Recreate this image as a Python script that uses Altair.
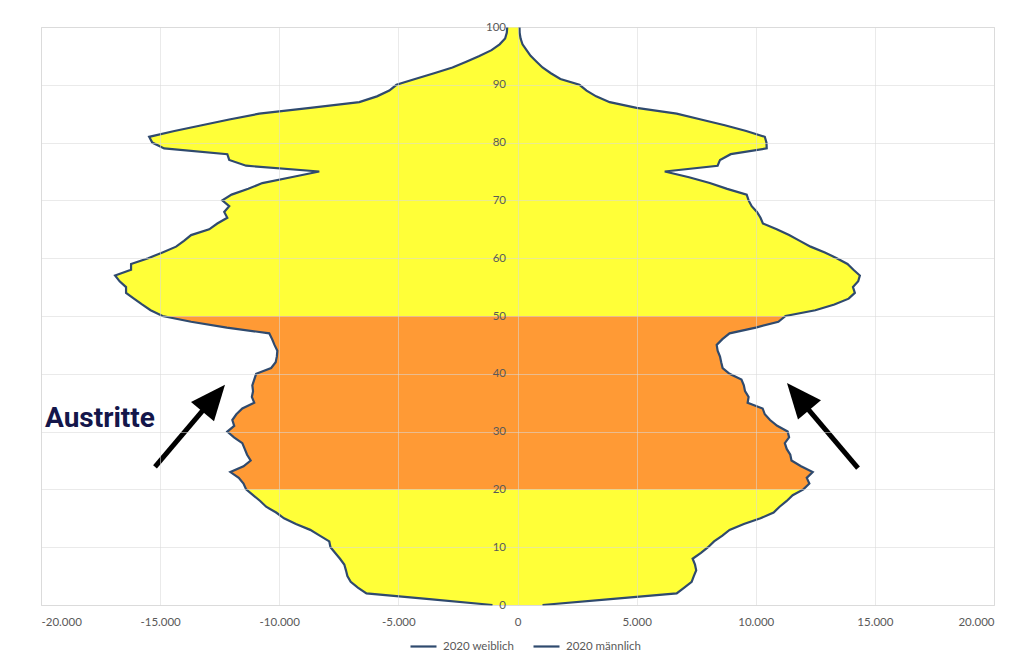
import altair as alt
import pandas as pd

# ---- data (age 0..100) ----
ages = list(range(0, 101))

weiblich = [
    -1050, -3700, -6340, -6700, -7000, -7140, -7200, -7270, -7450, -7650,
    -7850, -7900, -8300, -8700, -9300, -9800, -10130, -10550, -10800, -11100,
    -11390, -11500, -11700, -12050, -11500, -11200, -11350, -11450, -11550, -11900,
    -12180, -11890, -11970, -11800, -11550, -11050, -11150, -11100, -11130, -11050,
    -10970, -10340, -10150, -10100, -10080, -10200, -10300, -10420, -12200, -13700,
    -14900, -15400, -15760, -16100, -16430, -16430, -16700, -16890, -16220, -16220,
    -15500, -14900, -14330, -14000, -13700, -12940, -12600, -12180, -12310, -12100,
    -12390, -12000, -11300, -10710, -9500, -8320, -11390, -12100, -12180, -14830,
    -15330, -15460, -14400, -13250, -12100, -10840, -8700, -6640, -5900, -5380,
    -5080, -4300, -3500, -2730, -2150, -1600, -1090, -750, -520, -450,
    -430,
]

maennlich = [
    1050, 3900, 6680, 7000, 7310, 7400, 7500, 7450, 7350, 7700,
    8000, 8250, 8600, 8900, 9500, 10200, 10750, 11000, 11300, 11550,
    12000, 12250, 12140, 12390, 11900, 11500, 11450, 11300, 11220, 11400,
    11340, 10900, 10600, 10380, 10290, 9660, 9700, 9550, 9500, 9400,
    8900, 8610, 8550, 8500, 8400, 8360, 8600, 8900, 10000, 10950,
    11250, 12500, 13300, 13900, 14160, 14080, 14300, 14370, 14100, 13850,
    13400, 12900, 12300, 11850, 11400, 10880, 10300, 10200, 10050, 9830,
    9700, 9620, 8800, 8070, 7200, 6180, 8400, 8500, 8950, 10460,
    10450, 10380, 9600, 8700, 7700, 6680, 5000, 3870, 3300, 2900,
    2600, 1800, 1400, 1050, 800, 550, 380, 210, 130, 90,
    84,
]

series_names = ["2020 weiblich", "2020 männlich"]
x_ticks = [-20000, -15000, -10000, -5000, 0, 5000, 10000, 15000, 20000]
y_ticks = [0, 10, 20, 30, 40, 50, 60, 70, 80, 90, 100]

band_low, band_high = 20, 50

# annotation arrows (tail, shaft end, tip) in data space, and head angle
arrow_tail_x = [-15215, 14292]
arrow_tail_y = [23.9, 23.7]
arrow_end_x = [-13037, 12071]
arrow_end_y = [34.5, 34.5]
arrow_tip_x = [-12277, 11311]
arrow_tip_y = [38.1, 38.4]
arrow_angle = [40, 320]

annot_text = ["Austritte"]
annot_x = [-19832]
annot_y = [30.8]

# ---- build tables ----
df = pd.DataFrame({"age": ages, series_names[0]: weiblich, series_names[1]: maennlich})
arrows = pd.DataFrame({
    "tx": arrow_tail_x, "ty": arrow_tail_y,
    "ex": arrow_end_x, "ey": arrow_end_y,
    "px": arrow_tip_x, "py": arrow_tip_y,
    "ang": arrow_angle,
})
annot = pd.DataFrame({"t": annot_text, "x": annot_x, "y": annot_y})

W, H = 953, 578
FONT = "Lato"
GRAY = "#595959"
LINE = "#2F4A6E"

xscale = alt.Scale(domain=[-20000, 20000], nice=False, zero=False)
yscale = alt.Scale(domain=[0, 100], nice=False)

xaxis = alt.Axis(
    values=x_ticks, title=None, grid=True, domain=False, ticks=False,
    labelExpr="(datum.value < 0 ? '-' : '') + replace(format(abs(datum.value), ',.0f'), ',', '.')",
    labelFont=FONT, labelFontSize=11.5, labelColor=GRAY, labelPadding=11,
    gridColor="#D9D9D9", gridOpacity=0.55, zindex=1,
)
yaxis = alt.Axis(
    values=y_ticks, title=None, grid=True, domain=False, ticks=False, tickSize=0,
    offset=-W / 2, labelPadding=12,
    labelFont=FONT, labelFontSize=11.5, labelColor=GRAY,
    gridColor="#D9D9D9", gridOpacity=0.55, zindex=1,
)

base = alt.Chart(df)

fill_all = base.mark_area(orient="horizontal", color="#FFFF38").encode(
    y=alt.Y("age:Q", scale=yscale, axis=yaxis),
    x=alt.X(f"{series_names[0]}:Q", scale=xscale, axis=xaxis),
    x2=alt.X2(f"{series_names[1]}:Q"),
)

fill_band = base.transform_filter(
    (alt.datum.age >= band_low) & (alt.datum.age <= band_high)
).mark_area(orient="horizontal", color="#FF9A35").encode(
    y=alt.Y("age:Q", scale=yscale),
    x=alt.X(f"{series_names[0]}:Q", scale=xscale),
    x2=alt.X2(f"{series_names[1]}:Q"),
)

lines = base.transform_fold(series_names, as_=["series", "value"]).mark_line(
    strokeWidth=2.2
).encode(
    y=alt.Y("age:Q", scale=yscale),
    x=alt.X("value:Q", scale=xscale),
    order=alt.Order("age:Q"),
    color=alt.Color(
        "series:N",
        scale=alt.Scale(domain=series_names, range=[LINE, LINE]),
        legend=alt.Legend(
            title=None, orient="none", legendX=368, legendY=605,
            direction="horizontal", symbolType="stroke", symbolSize=676,
            symbolStrokeWidth=2.2, labelFont=FONT, labelFontSize=11.5,
            labelColor=GRAY, columnPadding=14, labelOffset=5,
        ),
    ),
)

shafts = alt.Chart(arrows).mark_rule(color="black", strokeWidth=5).encode(
    x=alt.X("tx:Q", scale=xscale), y=alt.Y("ty:Q", scale=yscale),
    x2="ex:Q", y2="ey:Q",
)
heads = alt.Chart(arrows).mark_point(
    shape="M0,0L0.857,2L-0.857,2Z", filled=True, color="black", opacity=1,
    size=1225, strokeWidth=0,
).encode(
    x=alt.X("px:Q", scale=xscale), y=alt.Y("py:Q", scale=yscale),
    angle=alt.Angle("ang:Q", scale=None),
)

label = alt.Chart(annot).mark_text(
    align="left", baseline="alphabetic", font="Roboto",
    fontWeight="bold", fontSize=28, color="#14164A",
).encode(
    x=alt.X("x:Q", scale=xscale), y=alt.Y("y:Q", scale=yscale), text="t:N",
)

chart = alt.layer(fill_all, fill_band, lines, shafts, heads, label).properties(
    width=W, height=H,
    autosize=alt.AutoSizeParams(type="none"),
    padding={"left": 33, "top": 19, "right": 10, "bottom": 49},
).configure_view(stroke=None).configure(background="white")

chart.save("out.html", embed_options={"renderer": "svg", "actions": False})
